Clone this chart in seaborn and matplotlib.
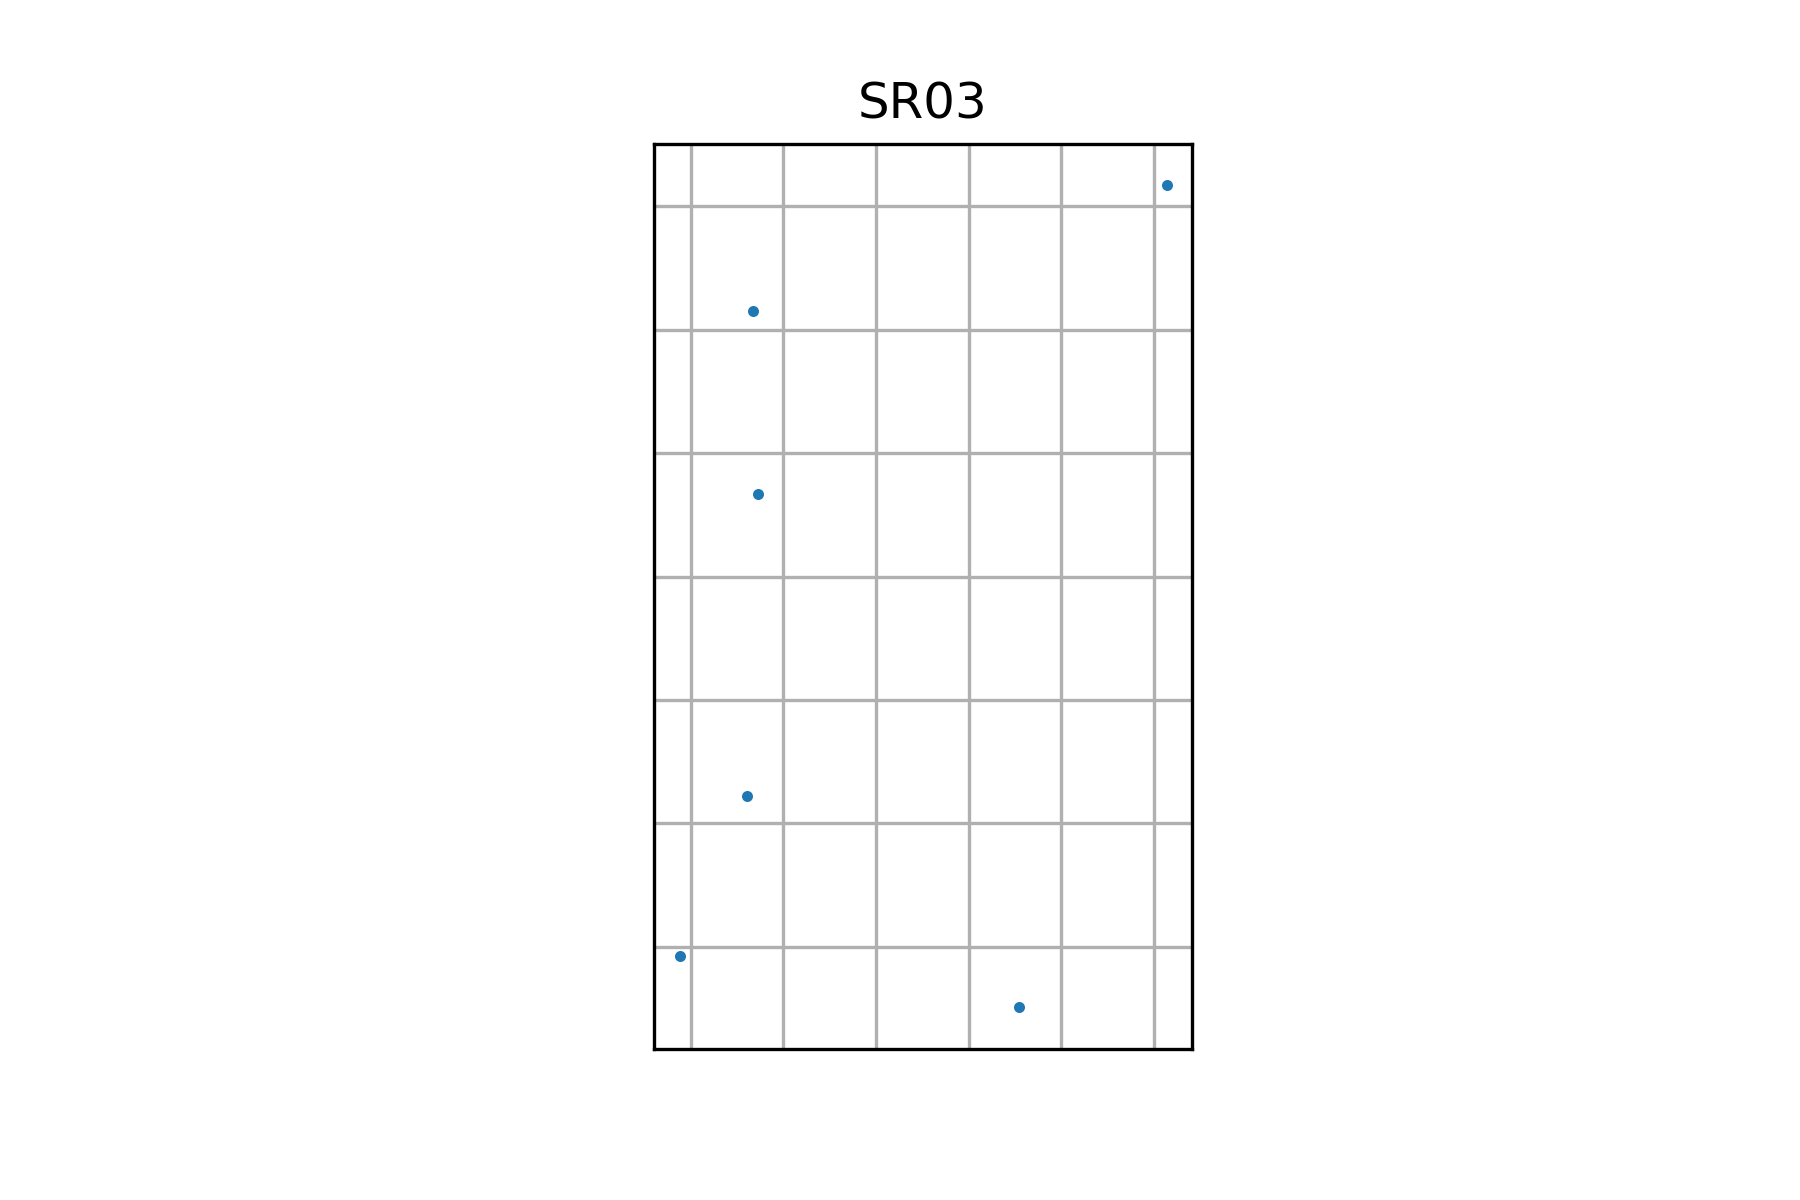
import numpy as np
import pandas as pd
import seaborn as sns
import matplotlib
matplotlib.use("Agg")
import matplotlib.pyplot as plt

# point positions (arbitrary grid units)
x_vals = [6.14, 1.67, 1.73, 1.61, 0.88, 4.54]
y_vals = [7.17, 6.15, 4.67, 2.22, 0.93, 0.51]
x_ticks = [1, 2, 3, 4, 5, 6]
y_ticks = [1, 2, 3, 4, 5, 6, 7]

df = pd.DataFrame({"x": x_vals, "y": y_vals})

fig = plt.figure(figsize=(6, 4), dpi=300)
ax = fig.add_axes([0.3633, 0.1258, 0.2989, 0.7546])
sns.scatterplot(data=df, x="x", y="y", ax=ax, s=7, color="#1f77b4", linewidth=0)
ax.set_xticks(x_ticks)
ax.set_yticks(y_ticks)
ax.set_xlim(0.603, 6.41)
ax.set_ylim(0.172, 7.51)
ax.grid(True, color="#b0b0b0", linewidth=0.8)
ax.tick_params(length=0, labelbottom=False, labelleft=False)
ax.set_xlabel("")
ax.set_ylabel("")
for s in ax.spines.values():
    s.set_color("black")
    s.set_linewidth(0.8)
ax.set_title("SR03", fontsize=12)
fig.savefig("out.png", dpi=300)
